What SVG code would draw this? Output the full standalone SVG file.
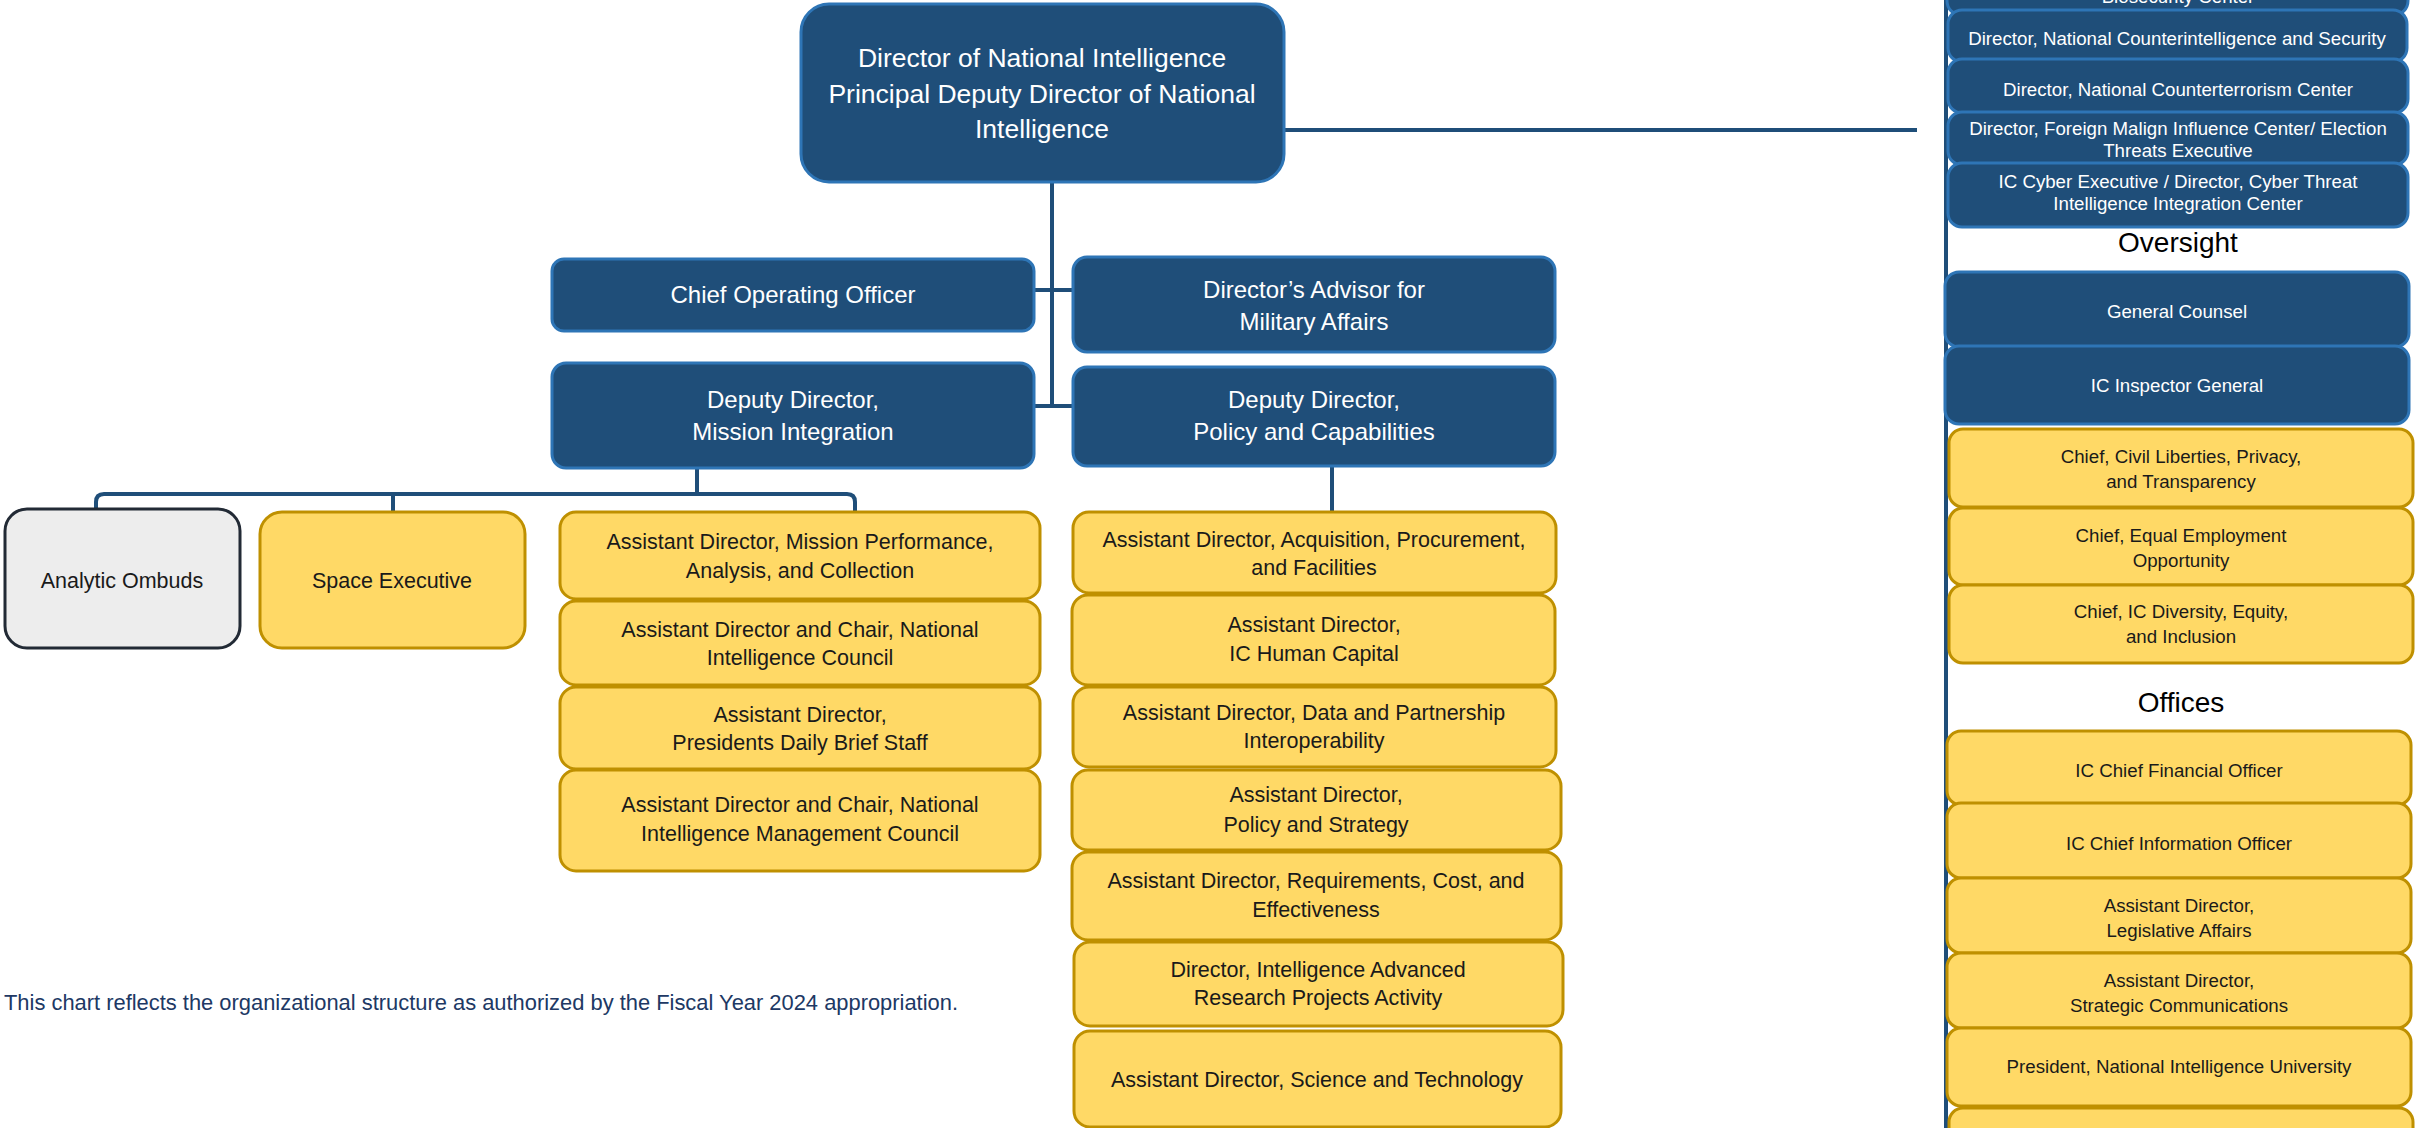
<svg xmlns="http://www.w3.org/2000/svg" width="2415" height="1128" viewBox="0 0 2415 1128">
<style>
.blue{fill:#1F4E79;stroke:#2E75B6;stroke-width:3}
.gold{fill:#FFD966;stroke:#BF9000;stroke-width:3}
.gray{fill:#EDEDED;stroke:#222A35;stroke-width:3}
.conn{fill:none;stroke:#1F4E79;stroke-width:4}
text{font-family:"Liberation Sans",Arial,sans-serif;text-anchor:middle}
.w{fill:#ffffff}
.d{fill:#1a1a1a}
.t26{font-size:26.5px}
.t24{font-size:24px}
.t22{font-size:21.5px}
.t18{font-size:18.7px}
.hd{font-size:28px;fill:#000}
.note{font-size:21.9px;fill:#203864;text-anchor:start}
</style>
<rect width="2415" height="1128" fill="#ffffff"/>
<g id="connectors">
<path class="conn" d="M1052,182 V407"/>
<path class="conn" d="M1034,290 H1073"/>
<path class="conn" d="M1034,406 H1073"/>
<path class="conn" d="M1284,130 H1917"/>
<path class="conn" d="M1946,0 V1128"/>
<path class="conn" d="M697,468 V494"/>
<path class="conn" d="M96,509 V502 Q96,494 104,494 H847 Q855,494 855,502 V512"/>
<path class="conn" d="M393,494 V512"/>
<path class="conn" d="M1332,466 V512"/>
</g>
<g id="dni"><rect class="blue" x="801" y="4" width="483" height="178" rx="28"/>
<text class="w t26" x="1042" y="67">Director of National Intelligence</text>
<text class="w t26" x="1042" y="103">Principal Deputy Director of National</text>
<text class="w t26" x="1042" y="138">Intelligence</text></g>
<g id="coo"><rect class="blue" x="552" y="259" width="482" height="72" rx="12"/>
<text class="w t24" x="793" y="303">Chief Operating Officer</text></g>
<g id="dama"><rect class="blue" x="1073" y="257" width="482" height="95" rx="14"/>
<text class="w t24" x="1314" y="298">Director’s Advisor for</text>
<text class="w t24" x="1314" y="330">Military Affairs</text></g>
<g id="ddmi"><rect class="blue" x="552" y="363" width="482" height="105" rx="14"/>
<text class="w t24" x="793" y="408">Deputy Director,</text>
<text class="w t24" x="793" y="440">Mission Integration</text></g>
<g id="ddpc"><rect class="blue" x="1073" y="367" width="482" height="99" rx="14"/>
<text class="w t24" x="1314" y="408">Deputy Director,</text>
<text class="w t24" x="1314" y="440">Policy and Capabilities</text></g>
<g id="ombuds"><rect class="gray" x="5" y="509" width="235" height="139" rx="22"/>
<text class="d t22" x="122" y="588">Analytic Ombuds</text></g>
<g id="space"><rect class="gold" x="260" y="512" width="265" height="136" rx="22"/>
<text class="d t22" x="392" y="588">Space Executive</text></g>
<g id="mpac"><rect class="gold" x="560" y="512" width="480" height="87" rx="16"/>
<text class="d t22" x="800" y="549">Assistant Director, Mission Performance,</text>
<text class="d t22" x="800" y="578">Analysis, and Collection</text></g>
<g id="nic"><rect class="gold" x="560" y="601" width="480" height="84" rx="16"/>
<text class="d t22" x="800" y="637">Assistant Director and Chair, National</text>
<text class="d t22" x="800" y="665">Intelligence Council</text></g>
<g id="pdb"><rect class="gold" x="560" y="687" width="480" height="82" rx="16"/>
<text class="d t22" x="800" y="722">Assistant Director,</text>
<text class="d t22" x="800" y="750">Presidents Daily Brief Staff</text></g>
<g id="nimc"><rect class="gold" x="560" y="770" width="480" height="101" rx="16"/>
<text class="d t22" x="800" y="812">Assistant Director and Chair, National</text>
<text class="d t22" x="800" y="841">Intelligence Management Council</text></g>
<g id="apf"><rect class="gold" x="1073" y="512" width="483" height="81" rx="16"/>
<text class="d t22" x="1314" y="547">Assistant Director, Acquisition, Procurement,</text>
<text class="d t22" x="1314" y="575">and Facilities</text></g>
<g id="hc"><rect class="gold" x="1072" y="595" width="483" height="90" rx="16"/>
<text class="d t22" x="1314" y="632">Assistant Director,</text>
<text class="d t22" x="1314" y="661">IC Human Capital</text></g>
<g id="dpi"><rect class="gold" x="1073" y="687" width="483" height="80" rx="16"/>
<text class="d t22" x="1314" y="720">Assistant Director, Data and Partnership</text>
<text class="d t22" x="1314" y="748">Interoperability</text></g>
<g id="ps"><rect class="gold" x="1072" y="770" width="489" height="80" rx="16"/>
<text class="d t22" x="1316" y="802">Assistant Director,</text>
<text class="d t22" x="1316" y="832">Policy and Strategy</text></g>
<g id="rce"><rect class="gold" x="1072" y="852" width="489" height="88" rx="16"/>
<text class="d t22" x="1316" y="888">Assistant Director, Requirements, Cost, and</text>
<text class="d t22" x="1316" y="917">Effectiveness</text></g>
<g id="iarpa"><rect class="gold" x="1074" y="942" width="489" height="84" rx="16"/>
<text class="d t22" x="1318" y="977">Director, Intelligence Advanced</text>
<text class="d t22" x="1318" y="1005">Research Projects Activity</text></g>
<g id="st"><rect class="gold" x="1074" y="1031" width="487" height="96" rx="16"/>
<text class="d t22" x="1317" y="1087">Assistant Director, Science and Technology</text></g>
<g id="bio"><rect class="blue" x="1947" y="-60" width="461" height="75" rx="14"/>
<text class="w t18" x="2178" y="3">Biosecurity Center</text></g>
<g id="ncsc"><rect class="blue" x="1948" y="10" width="459" height="52" rx="14"/>
<text class="w t18" x="2177" y="45">Director, National Counterintelligence and Security</text></g>
<g id="nctc"><rect class="blue" x="1948" y="59" width="460" height="54" rx="14"/>
<text class="w t18" x="2178" y="96">Director, National Counterterrorism Center</text></g>
<g id="fmic"><rect class="blue" x="1948" y="112" width="460" height="53" rx="14"/>
<text class="w t18" x="2178" y="135">Director, Foreign Malign Influence Center/ Election</text>
<text class="w t18" x="2178" y="157">Threats Executive</text></g>
<g id="cyber"><rect class="blue" x="1948" y="163" width="460" height="64" rx="14"/>
<text class="w t18" x="2178" y="188">IC Cyber Executive / Director, Cyber Threat</text>
<text class="w t18" x="2178" y="210">Intelligence Integration Center</text></g>
<g id="oversight-heading"><text class="hd" x="2178" y="252">Oversight</text></g>
<g id="gc"><rect class="blue" x="1945" y="272" width="464" height="75" rx="14"/>
<text class="w t18" x="2177" y="318">General Counsel</text></g>
<g id="ig"><rect class="blue" x="1945" y="346" width="464" height="78" rx="14"/>
<text class="w t18" x="2177" y="392">IC Inspector General</text></g>
<g id="clpt"><rect class="gold" x="1949" y="429" width="464" height="78" rx="14"/>
<text class="d t18" x="2181" y="463">Chief, Civil Liberties, Privacy,</text>
<text class="d t18" x="2181" y="488">and Transparency</text></g>
<g id="eeo"><rect class="gold" x="1949" y="508" width="464" height="77" rx="14"/>
<text class="d t18" x="2181" y="542">Chief, Equal Employment</text>
<text class="d t18" x="2181" y="567">Opportunity</text></g>
<g id="dei"><rect class="gold" x="1949" y="585" width="464" height="78" rx="14"/>
<text class="d t18" x="2181" y="618">Chief, IC Diversity, Equity,</text>
<text class="d t18" x="2181" y="643">and Inclusion</text></g>
<g id="offices-heading"><text class="hd" x="2181" y="712">Offices</text></g>
<g id="cfo"><rect class="gold" x="1947" y="731" width="464" height="74" rx="14"/>
<text class="d t18" x="2179" y="777">IC Chief Financial Officer</text></g>
<g id="cio"><rect class="gold" x="1947" y="803" width="464" height="75" rx="14"/>
<text class="d t18" x="2179" y="850">IC Chief Information Officer</text></g>
<g id="la"><rect class="gold" x="1947" y="878" width="464" height="75" rx="14"/>
<text class="d t18" x="2179" y="912">Assistant Director,</text>
<text class="d t18" x="2179" y="937">Legislative Affairs</text></g>
<g id="sc"><rect class="gold" x="1947" y="953" width="464" height="75" rx="14"/>
<text class="d t18" x="2179" y="987">Assistant Director,</text>
<text class="d t18" x="2179" y="1012">Strategic Communications</text></g>
<g id="niu"><rect class="gold" x="1947" y="1028" width="464" height="78" rx="14"/>
<text class="d t18" x="2179" y="1073">President, National Intelligence University</text></g>
<g id="next-office"><rect class="gold" x="1949" y="1108" width="464" height="60" rx="14"/></g>
<g id="footnote"><text class="note" x="4" y="1010">This chart reflects the organizational structure as authorized by the Fiscal Year 2024 appropriation.</text></g>
</svg>
